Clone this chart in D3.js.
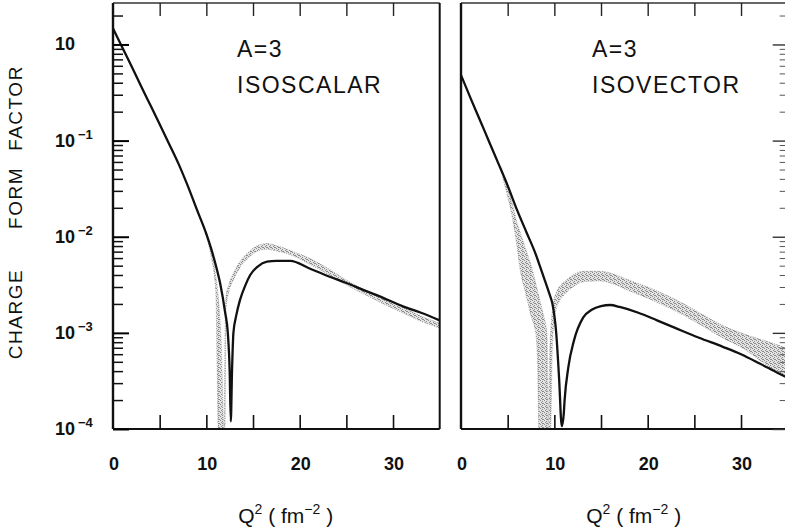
<!DOCTYPE html>
<html>
<head>
<meta charset="utf-8">
<script src="https://cdn.jsdelivr.net/npm/d3@7"></script>
<style>
  body { margin: 0; background: #fff; }
  text { font-family: "Liberation Sans", Arial, sans-serif; fill: #111; }
</style>
</head>
<body>
<div id="vis"></div>
<script>
// A=3 isoscalar panel: solid curve
const isoscalarQ2 = [0, 1, 2, 3, 4, 5, 6, 7, 8, 9, 10, 10.5, 11, 11.5, 12, 12.3, 12.5, 12.62, 12.75, 12.9,
  13.2, 13.6, 14.2, 14.7, 15.5, 16.5, 17.5, 19, 21, 23, 25, 27, 29, 31, 33, 35];
const isoscalarF = [1.47, 0.93, 0.59, 0.37, 0.234, 0.148, 0.093, 0.058, 0.034, 0.019, 0.0107, 0.0076, 0.0051,
  0.0032, 0.00166, 0.001, 0.0004, 0.00012, 0.0004, 0.001,
  0.00151, 0.00219, 0.00316, 0.0040, 0.0049, 0.0055, 0.0056, 0.0056, 0.0047, 0.0039, 0.0033, 0.00275,
  0.0023, 0.0019, 0.00162, 0.00135];

// isoscalar shaded band
const isoscalarBandQ2 = [9, 10, 10.5, 11, 11.3, 11.6, 11.9, 12.0, 12.1, 12.4, 13, 13.6, 14.5, 15.5, 16.5,
  17.5, 19, 21, 23, 25, 27, 29, 31, 33, 35];
const isoscalarBandHi = [0.019, 0.0107, 0.0071, 0.0040, 0.00224, 0.00079, 0.0001, 0.001, 0.0024, 0.00316,
  0.00437, 0.0055, 0.0069, 0.0081, 0.0085, 0.0081, 0.0072, 0.006, 0.0047, 0.00355, 0.0028, 0.0023,
  0.00186, 0.0015, 0.00126];
const isoscalarBandLo = [0.0182, 0.010, 0.0063, 0.0028, 0.0001, 0.0001, 0.0001, 0.0001, 0.00178, 0.00263,
  0.0037, 0.0048, 0.006, 0.0071, 0.0074, 0.0071, 0.0065, 0.0052, 0.0041, 0.00316, 0.0025, 0.002,
  0.00162, 0.00132, 0.00112];

// A=3 isovector panel: solid curve
const isovectorQ2 = [0, 1, 2, 3, 4, 5, 6, 7, 8, 8.5, 9, 9.5, 9.8, 10.2, 10.5, 10.8, 11.0, 11.1, 11.5, 12.1,
  13.1, 14, 15, 16, 17, 19, 21, 23, 25.5, 28, 30, 32, 34, 35];
const isovectorF = [0.48, 0.28, 0.166, 0.098, 0.058, 0.034, 0.019, 0.0112, 0.0066, 0.0048, 0.00347, 0.0025,
  0.002, 0.001, 0.00035, 0.000107, 0.00014, 0.0002, 0.00044, 0.00083,
  0.00145, 0.00174, 0.0019, 0.00195, 0.00186, 0.00162, 0.00135, 0.00112, 0.00089, 0.00072, 0.0006,
  0.00048, 0.00038, 0.00034];

// isovector shaded band
const isovectorBandQ2 = [4.5, 5, 5.5, 6, 6.3, 7, 7.5, 8, 8.2, 8.35, 8.8, 9.2, 9.3, 9.35, 9.5, 9.6, 9.8,
  10.2, 11.3, 12, 13.1, 14.9, 16, 17.8, 20, 22.7, 25, 28, 30, 33.4, 35];
const isovectorBandHi = [0.042, 0.0316, 0.0219, 0.0141, 0.0115, 0.0071, 0.0051, 0.0033, 0.00275, 0.0024,
  0.00158, 0.001, 0.00032, 0.0001, 0.00063, 0.001, 0.00178, 0.00263, 0.00355, 0.004, 0.00437, 0.00437,
  0.0042, 0.0036, 0.003, 0.00229, 0.00174, 0.0012, 0.001, 0.00078, 0.00069];
const isovectorBandLo = [0.04, 0.026, 0.0158, 0.0079, 0.0048, 0.0024, 0.0015, 0.001, 0.0005, 0.0001,
  0.0001, 0.0001, 0.0001, 0.0001, 0.0001, 0.0001, 0.00079, 0.00178, 0.00263, 0.003, 0.0034, 0.00347,
  0.0033, 0.0028, 0.00229, 0.00174, 0.00132, 0.00089, 0.00071, 0.00042, 0.00035];

// axes
const xTicks = [5, 10, 15, 20, 25, 30];
const xTickLabels = [0, 10, 20, 30];
const yDecades = [1e-4, 1e-3, 1e-2, 1e-1, 1];
const yDecadeExponents = ["\u22124", "\u22123", "\u22122", "\u22121", ""];
const yMinorMultipliers = [2, 3, 4, 5, 6, 7, 8, 9];

const W = 785, H = 530;
const yTop = 3, yBottom = 429;
const panelW = 326.7;
const leftX0 = 113, rightX0 = 461;

const svg = d3.select("#vis").append("svg")
  .attr("width", W)
  .attr("height", H);

const defs = svg.append("defs");
const pat = defs.append("pattern")
  .attr("id", "stipple")
  .attr("width", 4).attr("height", 4)
  .attr("patternUnits", "userSpaceOnUse");
pat.append("rect").attr("width", 4).attr("height", 4).attr("fill", "#e3e3e3");
[[0, 0], [2, 1], [1, 2], [3, 3], [2, 3]].forEach(p => {
  pat.append("rect").attr("x", p[0]).attr("y", p[1]).attr("width", 1).attr("height", 1).attr("fill", "#8a8a8a");
});

const y = d3.scaleLog()
  .domain([1e-4, 2.7])
  .range([yBottom, yTop]);

const minorTicks = [];
yDecades.forEach(d => yMinorMultipliers.forEach(m => {
  if (d * m < 2.7) minorTicks.push(d * m);
}));

function drawPanel(x0, q2, f, bq2, blo, bhi, name, labelX, clipId) {
  const x = d3.scaleLinear().domain([0, 35]).range([x0, x0 + panelW]);

  defs.append("clipPath").attr("id", clipId)
    .append("rect")
    .attr("x", x0).attr("y", yTop)
    .attr("width", panelW).attr("height", yBottom - yTop);

  const plot = svg.append("g").attr("clip-path", `url(#${clipId})`);

  const band = bq2.map((q, i) => ({ q: q, lo: blo[i], hi: bhi[i] }));
  const area = d3.area()
    .x(d => x(d.q))
    .y0(d => y(d.lo))
    .y1(d => y(d.hi))
    .curve(d3.curveMonotoneX);
  plot.append("path")
    .datum(band)
    .attr("d", area)
    .attr("fill", "url(#stipple)")
    .attr("stroke", "#9a9a9a")
    .attr("stroke-width", 0.8)
    .attr("stroke-dasharray", "1,1.5");

  const pts = q2.map((q, i) => ({ q: q, f: f[i] }));
  const line = d3.line()
    .x(d => x(d.q))
    .y(d => y(d.f))
    .curve(d3.curveMonotoneX);
  plot.append("path")
    .datum(pts)
    .attr("d", line)
    .attr("fill", "none")
    .attr("stroke", "#111")
    .attr("stroke-width", 2.3)
    .attr("stroke-linejoin", "round");

  // frame
  svg.append("line").attr("x1", x0).attr("x2", x0 + panelW).attr("y1", yBottom).attr("y2", yBottom)
    .attr("stroke", "#111").attr("stroke-width", 1.8);
  svg.append("line").attr("x1", x0).attr("x2", x0 + panelW).attr("y1", yTop).attr("y2", yTop)
    .attr("stroke", "#333").attr("stroke-width", 1.5);
  svg.append("line").attr("x1", x0).attr("x2", x0).attr("y1", yTop).attr("y2", yBottom)
    .attr("stroke", "#111").attr("stroke-width", 2.4);
  svg.append("line").attr("x1", x0 + panelW).attr("x2", x0 + panelW).attr("y1", yTop).attr("y2", yBottom)
    .attr("stroke", "#111").attr("stroke-width", 2);

  // bottom axis: ticks pointing up
  const bAxis = svg.append("g")
    .attr("transform", `translate(0,${yBottom})`)
    .call(d3.axisBottom(x).tickValues(xTicks).tickSize(-14).tickFormat(""));
  bAxis.select(".domain").remove();
  bAxis.selectAll("line").attr("stroke", "#111").attr("stroke-width", 1.6);

  // top axis: ticks pointing down
  const tAxis = svg.append("g")
    .attr("transform", `translate(0,${yTop})`)
    .call(d3.axisTop(x).tickValues(xTicks).tickSize(-13).tickFormat(""));
  tAxis.select(".domain").remove();
  tAxis.selectAll("line").attr("stroke", "#222").attr("stroke-width", 1.4);

  // x tick labels
  svg.append("g").selectAll("text")
    .data(xTickLabels)
    .enter().append("text")
    .attr("x", d => x(d) + 1)
    .attr("y", 470)
    .attr("text-anchor", "middle")
    .style("font-size", "18px")
    .style("font-weight", "bold")
    .text(d => d);

  // x axis title
  const xt = svg.append("text")
    .attr("x", x(18.5))
    .attr("y", 523)
    .attr("text-anchor", "middle")
    .style("font-size", "21px")
    .attr("xml:space", "preserve");
  xt.append("tspan").text("Q");
  xt.append("tspan").attr("dy", -9).style("font-size", "14px").text("2");
  xt.append("tspan").attr("dy", 9).text(" ( fm");
  xt.append("tspan").attr("dy", -9).style("font-size", "14px").text("\u22122");
  xt.append("tspan").attr("dy", 9).text(" )");

  // annotation
  svg.append("text")
    .attr("x", labelX).attr("y", 57)
    .style("font-size", "23px")
    .style("letter-spacing", "1.5px")
    .text("A=3");
  svg.append("text")
    .attr("x", labelX).attr("y", 93)
    .style("font-size", "23px")
    .style("letter-spacing", "1.5px")
    .text(name);

  return x;
}

drawPanel(leftX0, isoscalarQ2, isoscalarF, isoscalarBandQ2, isoscalarBandLo, isoscalarBandHi,
  "ISOSCALAR", 237, "clipL");
drawPanel(rightX0, isovectorQ2, isovectorF, isovectorBandQ2, isovectorBandLo, isovectorBandHi,
  "ISOVECTOR", 592, "clipR");

// left panel y axis: ticks point right, into the plot
const lMajor = svg.append("g")
  .attr("class", "y-left-major")
  .attr("transform", `translate(${leftX0},0)`)
  .call(d3.axisRight(y).tickValues(yDecades).tickSize(16).tickFormat(""));
lMajor.select(".domain").remove();
lMajor.selectAll("line").attr("stroke", "#000").attr("stroke-width", 2);

const lMinor = svg.append("g")
  .attr("class", "y-left-minor")
  .attr("transform", `translate(${leftX0},0)`)
  .call(d3.axisRight(y).tickValues(minorTicks).tickSize(10).tickFormat(""));
lMinor.select(".domain").remove();
lMinor.selectAll("line").attr("stroke", "#111").attr("stroke-width", 1.5);

// right panel right-hand axis: ticks point left
const rx = rightX0 + panelW;
const rMajor = svg.append("g")
  .attr("transform", `translate(${rx},0)`)
  .call(d3.axisLeft(y).tickValues(yDecades).tickSize(15).tickFormat(""));
rMajor.select(".domain").remove();
rMajor.selectAll("line").attr("stroke", "#333").attr("stroke-width", 1.4);
const rMinor = svg.append("g")
  .attr("transform", `translate(${rx},0)`)
  .call(d3.axisLeft(y).tickValues(minorTicks).tickSize(8).tickFormat(""));
rMinor.select(".domain").remove();
rMinor.selectAll("line").attr("stroke", "#555").attr("stroke-width", 1);

// y tick labels
const yl = svg.append("g").selectAll("text")
  .data(yDecades)
  .enter().append("text")
  .attr("x", 55)
  .attr("y", d => y(d) + 6)
  .style("font-size", "18px")
  .style("font-weight", "bold");
yl.append("tspan").text("10");
yl.append("tspan")
  .attr("dx", 3)
  .attr("dy", -8)
  .style("font-size", "13px")
  .text((d, i) => yDecadeExponents[i]);

// y axis title
[["FACTOR", 108], ["FORM", 198], ["CHARGE", 314]].forEach(w => {
  svg.append("text")
    .attr("transform", `translate(22,${w[1]}) rotate(-90)`)
    .attr("text-anchor", "middle")
    .style("font-size", "19px")
    .style("letter-spacing", "1.5px")
    .text(w[0]);
});
</script>
</body>
</html>
